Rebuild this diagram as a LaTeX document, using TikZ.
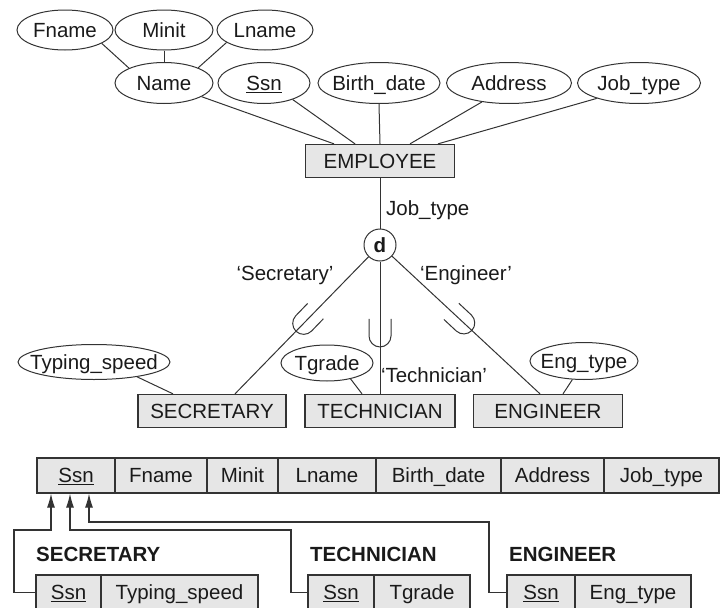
\documentclass[tikz,border=0pt]{standalone}
\usepackage{fontspec}
\setmainfont{Liberation Sans}
\usetikzlibrary{arrows.meta,shapes.geometric}
\definecolor{ln}{HTML}{333333}
\definecolor{bx}{HTML}{E6E6E6}
\definecolor{tx}{HTML}{1A1A1A}
\begin{document}
\begin{tikzpicture}[x=1pt,y=-1pt,
  font=\fontsize{20.5pt}{23pt}\selectfont, text=tx,
  lbl/.style={inner sep=0pt,text height=14.5pt,text depth=0pt},
  attr/.style={ellipse,draw=ln,line width=1pt,inner sep=0pt},
  ent/.style={rectangle,draw=ln,fill=bx,line width=1.3pt,minimum height=33pt,inner sep=0pt,text height=14.5pt,text depth=0pt},
  cell/.style={rectangle,draw=ln,fill=bx,line width=1.2pt,minimum height=35pt,inner sep=0pt,text height=14.5pt,text depth=0pt},
  conn/.style={draw=ln,line width=1pt},
  fk/.style={draw=ln,line width=1.2pt,-{Latex[length=14pt,width=8pt]}},
  bold/.style={font=\bfseries\fontsize{20.5pt}{23pt}\selectfont},
  subsetcup/.pic={\draw[conn] (-11,-14) -- (-11,3) .. controls (-11,9) and (-6,14) .. (0,14) .. controls (6,14) and (11,9) .. (11,3) -- (11,-14);}
]
\useasboundingbox (0,0) rectangle (721,608);

% attributes of EMPLOYEE
\node[attr,minimum width=96pt,minimum height=40pt,label={[lbl]center:Fname}] (fname) at (65,30) {};
\node[attr,minimum width=98pt,minimum height=40pt,label={[lbl]center:Minit}] (minit) at (164,30) {};
\node[attr,minimum width=96pt,minimum height=40pt,label={[lbl]center:Lname}] (lname) at (265,30) {};
\node[attr,minimum width=98pt,minimum height=41pt,label={[lbl]center:Name}] (name) at (164,83) {};
\node[attr,minimum width=92pt,minimum height=41pt,label={[lbl]center:\underline{Ssn}}] (ssn) at (264,83) {};
\node[attr,minimum width=122pt,minimum height=41pt,label={[lbl]center:Birth\_date}] (bdate) at (379,83) {};
\node[attr,minimum width=125pt,minimum height=41pt,label={[lbl]center:Address}] (addr) at (509,83) {};
\node[attr,minimum width=123pt,minimum height=41pt,label={[lbl]center:Job\_type}] (jtype) at (639,83) {};

\node[ent,minimum width=149pt] (emp) at (380,161) {EMPLOYEE};

\draw[conn] (fname.-20) -- (name.157);
\draw[conn] (minit.south) -- (name.north);
\draw[conn] (lname.-162) -- (name.24);
\draw[conn] (name.-20) -- ([xshift=-46pt]emp.north);
\draw[conn] (ssn.-30) -- ([xshift=-25pt]emp.north);
\draw[conn] (bdate.south) -- (emp.north);
\draw[conn] (addr.-145) -- ([xshift=30pt]emp.north);
\draw[conn] (jtype.-160) -- ([xshift=58pt]emp.north);

% specialization
\node[circle,draw=ln,line width=1pt,minimum size=32pt,inner sep=0pt,bold] (d) at (380,245) {d};
\draw[conn] (emp.south) -- (d.north);
\node[lbl,anchor=west] (jtl) at (386,208) {Job\_type};

\node[ent,minimum width=148pt] (sec) at (212,411) {SECRETARY};
\node[ent,minimum width=150pt] (tec) at (380,411) {TECHNICIAN};
\node[ent,minimum width=149pt] (eng) at (548,411) {ENGINEER};

\draw[conn] (d) -- coordinate[pos=0.47] (c1) ([xshift=23pt]sec.north);
\draw[conn] (d) -- coordinate[pos=0.54] (c2) (tec.north);
\draw[conn] (d) -- coordinate[pos=0.47] (c3) ([xshift=-8pt]eng.north);
\pic[rotate=-44] at (c1) {subsetcup};
\pic at (c2) {subsetcup};
\pic[rotate=47] at (c3) {subsetcup};

\node[lbl] (lsec) at (285,273) {‘Secretary’};
\node[lbl] (leng) at (466,273) {‘Engineer’};
\node[lbl] (ltec) at (434,375) {‘Technician’};

\node[attr,minimum width=152pt,minimum height=35pt,label={[lbl]center:Typing\_speed}] (tsp) at (94,362) {};
\node[attr,minimum width=92pt,minimum height=36pt,label={[lbl]center:Tgrade}] (tg) at (327,363) {};
\node[attr,minimum width=108pt,minimum height=37pt,label={[lbl]center:Eng\_type}] (et) at (584,361) {};

\draw[conn] (tsp.-19) -- ([xshift=-39pt]sec.north);
\draw[conn] (tg.-34) -- ([xshift=-18pt]tec.north);
\draw[conn] (et.-122) -- ([xshift=15pt]eng.north);

% relational schema
\node[cell,minimum width=78pt] (tssn) at (76,475.5) {\underline{Ssn}};
\node[cell,minimum width=92pt] (tfn) at (161,475.5) {Fname};
\node[cell,minimum width=71pt] (tmi) at (242.5,475.5) {Minit};
\node[cell,minimum width=98pt] (tln) at (327,475.5) {Lname};
\node[cell,minimum width=125pt] (tbd) at (438.5,475.5) {Birth\_date};
\node[cell,minimum width=103pt] (tad) at (552.5,475.5) {Address};
\node[cell,minimum width=115pt] (tjt) at (661.5,475.5) {Job\_type};

\node[lbl,bold,anchor=west] (rsec) at (36,554) {SECRETARY};
\node[lbl,bold,anchor=west] (rtec) at (310,554) {TECHNICIAN};
\node[lbl,bold,anchor=west] (reng) at (509,554) {ENGINEER};

\node[cell,minimum width=65pt] (sssn) at (68.5,592.5) {\underline{Ssn}};
\node[cell,minimum width=157pt] (sts) at (179.5,592.5) {Typing\_speed};
\node[cell,minimum width=66pt] (cssn) at (341,592.5) {\underline{Ssn}};
\node[cell,minimum width=96pt] (ctg) at (422,592.5) {Tgrade};
\node[cell,minimum width=68pt] (essn) at (541,592.5) {\underline{Ssn}};
\node[cell,minimum width=116pt] (eet) at (633,592.5) {Eng\_type};

\coordinate (k1) at (14,530);
\coordinate (k2) at (291,530);
\coordinate (k3) at (489,522);
\draw[fk] (sssn.west) -| (k1) -| ([xshift=-25pt]tssn.south);
\draw[fk] (cssn.west) -| (k2) -| ([xshift=-6pt]tssn.south);
\draw[fk] (essn.west) -| (k3) -| ([xshift=13pt]tssn.south);
\end{tikzpicture}
\end{document}
